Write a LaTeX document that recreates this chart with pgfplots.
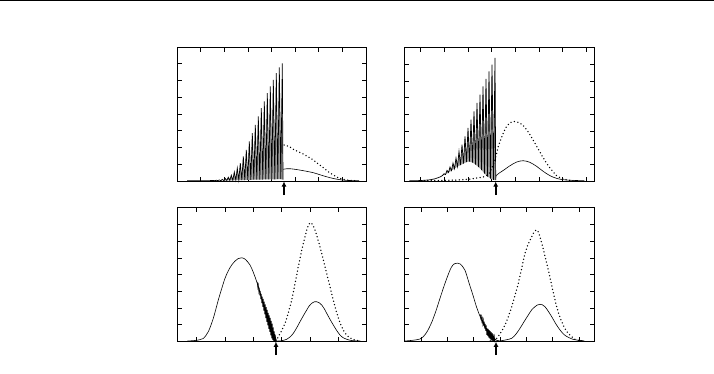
\documentclass[border=0pt]{standalone}
\usepackage{pgfplots}
\pgfplotsset{compat=1.18}
\usetikzlibrary{arrows.meta}
\tikzset{marrow/.style={-{Latex[length=5pt,width=5pt]}, line width=1.6pt}}
\pgfplotsset{
  panel/.style={scale only axis, anchor=south west, clip=false, xmin=0, ymin=0,
    xticklabels={}, yticklabels={}, major tick length=4.5pt,
    axis line style={line width=0.75pt},
    every tick/.style={black, line width=0.75pt}, tick align=inside},
  sol/.style={black, line width=0.6pt, no marks, smooth, tension=0.5},
  spk/.style={black, line width=0.7pt, no marks, sharp plot},
  dots/.style={black, line width=1.5pt, line cap=round, dash pattern=on 0pt off 3.5pt, no marks, smooth, tension=0.5},
  teeth/.style={fill=gray!75, draw=none, no marks, sharp plot}
}
\begin{document}
\begin{tikzpicture}
\useasboundingbox (0pt,0pt) rectangle (714pt,373pt);
\fill (0pt,371.8pt) rectangle (714pt,373pt);

% ---------- top left ----------
\begin{axis}[panel, at={(177pt,192pt)}, width=189pt, height=134pt, xmax=189, ymax=134,
  xtick={23.6,47.2,70.9,94.5,118.1,141.8,165.4},
  ytick={16.75,33.5,50.25,67,83.75,100.5,117.25}]
\addplot[teeth] coordinates {(46.8,0.4)(48.3,2.5)(49.8,0.5)(51.3,3.7)(52.8,0.6)(54.3,5.7)(55.8,0.7)(57.3,8.9)(58.8,0.8)(60.3,12.9)(61.8,0.9)(63.3,17.9)(64.8,1)(66.3,24.5)(67.8,1)(69.3,31.2)(70.8,1.1)(72.3,39.5)(73.8,1.2)(75.3,47.9)(76.8,1.3)(78.3,56.2)(79.8,1.4)(81.3,64.5)(82.8,1.5)(84.3,72.9)(85.8,1.5)(87.3,79.5)(88.8,1.6)(90.3,87.9)(91.8,1.6)(93.3,94.5)(94.8,1.7)(96.3,101.2)(97.8,1.7)(99.3,107.9)(100.8,1.8)(102.3,113.5)(103.8,1.8)(105.3,117.7)(106,1.5)(103.8,1.8)(100.8,1.8)(97.8,1.7)(94.8,1.7)(91.8,1.6)(88.8,1.6)(85.8,1.5)(82.8,1.5)(79.8,1.4)(76.8,1.3)(73.8,1.2)(70.8,1.1)(67.8,1)(64.8,1)(61.8,0.9)(58.8,0.8)(55.8,0.7)(52.8,0.6)(49.8,0.5)(46.8,0.4)};
\addplot[spk] coordinates {(10,0.2)(20,0.25)(30,0.35)(33,0.4)(36.3,0.6)(37.8,0.3)(39.3,0.8)(40.8,0.3)(42.3,1.1)(43.8,0.3)(45.3,1.6)(46.8,0.4)(48.3,2.5)(49.8,0.5)(51.3,3.7)(52.8,0.6)(54.3,5.7)(55.8,0.7)(57.3,8.9)(58.8,0.8)(60.3,12.9)(61.8,0.9)(63.3,17.9)(64.8,1)(66.3,24.5)(67.8,1)(69.3,31.2)(70.8,1.1)(72.3,39.5)(73.8,1.2)(75.3,47.9)(76.8,1.3)(78.3,56.2)(79.8,1.4)(81.3,64.5)(82.8,1.5)(84.3,72.9)(85.8,1.5)(87.3,79.5)(88.8,1.6)(90.3,87.9)(91.8,1.6)(93.3,94.5)(94.8,1.7)(96.3,101.2)(97.8,1.7)(99.3,107.9)(100.8,1.8)(102.3,113.5)(103.8,1.8)(105.3,117.7)(106,1.5)};
\addplot[sol] coordinates {(106.3,11.7)(110,12.3)(114,12.2)(120,11.4)(128,10)(136.3,8.3)(145,5.6)(153,3.3)(160,1.8)(165,1)(172,0.5)(182,0.3)};
\addplot[dots] coordinates {(107,36)(112,34.5)(116.3,31.7)(121,29.5)(126.3,27)(131,24.3)(136.3,21)(141,17.3)(146.3,13.3)(151,9.5)(156.3,6)(161,3.3)(166.3,1.7)(172,0.7)(178,0.3)};
\draw[marrow] (axis cs:107,-14) -- (axis cs:107,-0.5);
\end{axis}

% ---------- top right ----------
\begin{axis}[panel, at={(404.3pt,192pt)}, width=190pt, height=133.5pt, xmax=190, ymax=133.5,
  xtick={16.3,40,63.7,87.3,111,134.7,158.3,182},
  ytick={16.7,33.4,50.1,66.8,83.4,100.1,116.8}]
\addplot[teeth] coordinates {(38.2,5.5)(39.7,7.3)(41.2,6.5)(42.7,10.6)(44.2,8.5)(45.7,14)(47.2,10.5)(48.7,18)(50.2,12.3)(51.7,23)(53.2,14.5)(54.7,29.6)(56.2,16)(57.7,36.3)(59.2,17.5)(60.7,44.6)(62.2,19)(63.7,53)(65.2,19.5)(66.7,61.3)(68.2,18.5)(69.7,69.6)(71.2,16.5)(72.7,78)(74.2,14)(75.7,86.3)(77.2,11)(78.7,94.6)(80.2,7.5)(81.7,102)(83.2,4.5)(84.7,109.6)(86.2,2.5)(87.7,116.3)(89.2,1.2)(90.7,123)(91.4,0.8)(89.2,1.2)(86.2,2.5)(83.2,4.5)(80.2,7.5)(77.2,11)(74.2,14)(71.2,16.5)(68.2,18.5)(65.2,19.5)(62.2,19)(59.2,17.5)(56.2,16)(53.2,14.5)(50.2,12.3)(47.2,10.5)(44.2,8.5)(41.2,6.5)(38.2,5.5)};
\addplot[spk] coordinates {(5,0.2)(12.4,0.3)(20,0.7)(25.7,1.2)(30.7,2.2)(35.7,4)(38.2,5.5)(39.7,7.3)(41.2,6.5)(42.7,10.6)(44.2,8.5)(45.7,14)(47.2,10.5)(48.7,18)(50.2,12.3)(51.7,23)(53.2,14.5)(54.7,29.6)(56.2,16)(57.7,36.3)(59.2,17.5)(60.7,44.6)(62.2,19)(63.7,53)(65.2,19.5)(66.7,61.3)(68.2,18.5)(69.7,69.6)(71.2,16.5)(72.7,78)(74.2,14)(75.7,86.3)(77.2,11)(78.7,94.6)(80.2,7.5)(81.7,102)(83.2,4.5)(84.7,109.6)(86.2,2.5)(87.7,116.3)(89.2,1.2)(90.7,123)(91.4,0.8)(91.7,5.3)};
\addplot[sol] coordinates {(91.7,5.3)(95,8)(99,10.6)(105.7,15.3)(112.4,19)(119,20.3)(125.7,18.6)(132.4,14.6)(139,9.6)(145.7,5.3)(152.4,2.6)(159,1.3)(169,0.6)(180,0.3)};
\addplot[dots] coordinates {(20,0.3)(30,0.4)(40.7,0.6)(50,0.9)(57.4,1.2)(65.7,2)(72.4,3)(79,4)(82.4,5.5)(85,8)(87.4,12.5)(90.7,21.3)(94,34.6)(96.4,41.3)(99.7,49.6)(102.4,54.6)(106,58.3)(110,59.5)(114,58.6)(119,55.3)(125.7,46.3)(132.4,34.6)(139,23)(145.7,13)(152.4,5.3)(159,2)(165.7,0.6)(172,0.3)};
\draw[marrow] (axis cs:91.4,-14) -- (axis cs:91.4,-0.5);
\end{axis}

% ---------- bottom left ----------
\begin{axis}[panel, at={(177.3pt,31.7pt)}, width=189pt, height=133.5pt, xmax=189, ymax=133.5,
  xtick={19.3,47.7,76,104.3,132.7,161},
  ytick={16.7,33.4,50.1,66.8,83.4,100.1,116.8}]
\addplot[sol] coordinates {(10,0.3)(17.7,0.8)(22,1.5)(26,2.8)(31,9.6)(36,23)(41,41.3)(44.5,53)(47.7,63)(51,70.5)(54.4,76.3)(58,80.5)(61,82.8)(64.4,83.5)(68,82)(72.7,76.3)(76,69)(79.4,59.6)(84.4,42.5)(89.4,26.3)(94.4,11.3)(97.7,2)(99,0.5)};
\addplot[spk, line width=0.6pt] coordinates {(80,59.5)(80.5,53.8)(81,56.6)(81.5,49.9)(82,53.7)(82.5,46.0)(83,50.3)(83.5,42.1)(84,47.4)(84.5,38.2)(85,44.6)(85.5,34.5)(86,42.3)(86.5,30.7)(87,39.6)(87.5,27.0)(88,36.8)(88.5,23.2)(89,34.1)(89.5,19.5)(90,31.5)(90.5,16.0)(91,28.5)(91.5,12.5)(92,26.0)(92.5,9.5)(93,23.5)(93.5,6.0)(94,20.5)(94.5,3.0)(95,17.6)(95.5,1.2)(96,13.8)(96.5,0.4)(97,10.0)(97.5,0.1)(98,6.7)(98.5,0)(99,2.5)};
\addplot[dots] coordinates {(99,0.3)(101,4.6)(104,10)(107.7,18)(111,28.5)(114.4,41.3)(117.7,57.5)(121,74.6)(124.4,91)(127.7,104.6)(130.3,114)(132.7,118.6)(135,117)(137.7,111.3)(141,100.5)(144.4,88)(147.7,74.5)(151,61.3)(154.4,47.5)(157.7,34.6)(161,23.5)(164.4,14.6)(167.7,8.5)(171,4.6)(174.4,2.5)(177.7,1.3)(182,0.5)};
\addplot[sol] coordinates {(100,0.3)(104,0.5)(109.4,2)(112.7,4.3)(116,8)(119.4,13.5)(122.7,19.6)(126,25.5)(129.4,31.3)(132,35.5)(134.4,38)(137,39.5)(139.4,39.6)(142,38.5)(144.4,36.3)(147,32.5)(149.4,28)(152.7,22)(156,16.3)(159.4,10.8)(162.7,6.3)(166,3.5)(169.4,2)(173,1)(176,0.6)(183,0.3)};
\draw[marrow] (axis cs:98.7,-13.7) -- (axis cs:98.7,-0.5);
\end{axis}

% ---------- bottom right ----------
\begin{axis}[panel, at={(404.3pt,31.7pt)}, width=190pt, height=133.5pt, xmax=190, ymax=133.5,
  xtick={16.7,43,69.3,95.7,122,148.3,174.7},
  ytick={16.7,33.4,50.1,66.8,83.4,100.1,116.8}]
\addplot[sol] coordinates {(0,0.2)(4,0.6)(10,1.2)(15.7,2.3)(19,4.6)(23,10)(27.4,19)(31.5,30)(35.7,43)(40,56)(44,67)(47,74)(50,77.5)(53.2,78.2)(56,77.3)(58.5,74.5)(60.7,71)(62.4,66)(65,57.5)(69,45)(72,35)(75.7,25)(79,17.5)(82.4,10.5)(86,6)(89,3.2)(92,1.2)(95,0.4)};
\addplot[spk, line width=0.6pt] coordinates {(76,27.0)(76.5,22.9)(77,25.3)(77.5,20.2)(78,23.1)(78.5,17.5)(79,21.4)(79.5,15.3)(80,19.7)(80.5,12.6)(81,17.5)(81.5,10.4)(82,15.8)(82.5,6.4)(83,12.9)(83.5,5.3)(84,12.3)(84.5,3.8)(85,11.2)(85.5,2.7)(86,10.2)(86.5,1.6)(87,9.1)(87.5,0.6)(88,8.1)(88.5,0.5)(89,7.0)(89.5,0.5)(90,5.0)(90.5,0.5)(91,2.5)};
\addplot[dots] coordinates {(86,0.4)(89,1.2)(92.4,3)(96,8)(100.7,16.3)(104,24.5)(107.4,34.6)(110.7,46)(114,58)(117.4,73)(120.7,88)(124,97.5)(127.4,104.6)(130,109.5)(132.4,111.3)(134.5,108)(137.4,98)(140.7,85)(144,71.3)(147.4,56)(150.7,41.3)(154,29)(157.4,19.6)(160.7,12.5)(164,8)(167.4,4.5)(170.7,2)(175,0.7)(180,0.3)};
\addplot[sol] coordinates {(92,0.3)(97.4,0.6)(102,1.5)(107.4,3)(111.5,7)(115.7,13)(120,20)(124,26.3)(127.4,31.5)(130.7,34.6)(133,36.3)(135.7,37)(138,36.5)(140.7,34.6)(144,30)(147.4,24.6)(151.5,17.5)(155.7,11.3)(160,6.5)(164,4)(168,2.2)(172.4,1.3)(180,0.4)};
\draw[marrow] (axis cs:91.7,-13.7) -- (axis cs:91.7,-0.5);
\end{axis}
\end{tikzpicture}
\end{document}
